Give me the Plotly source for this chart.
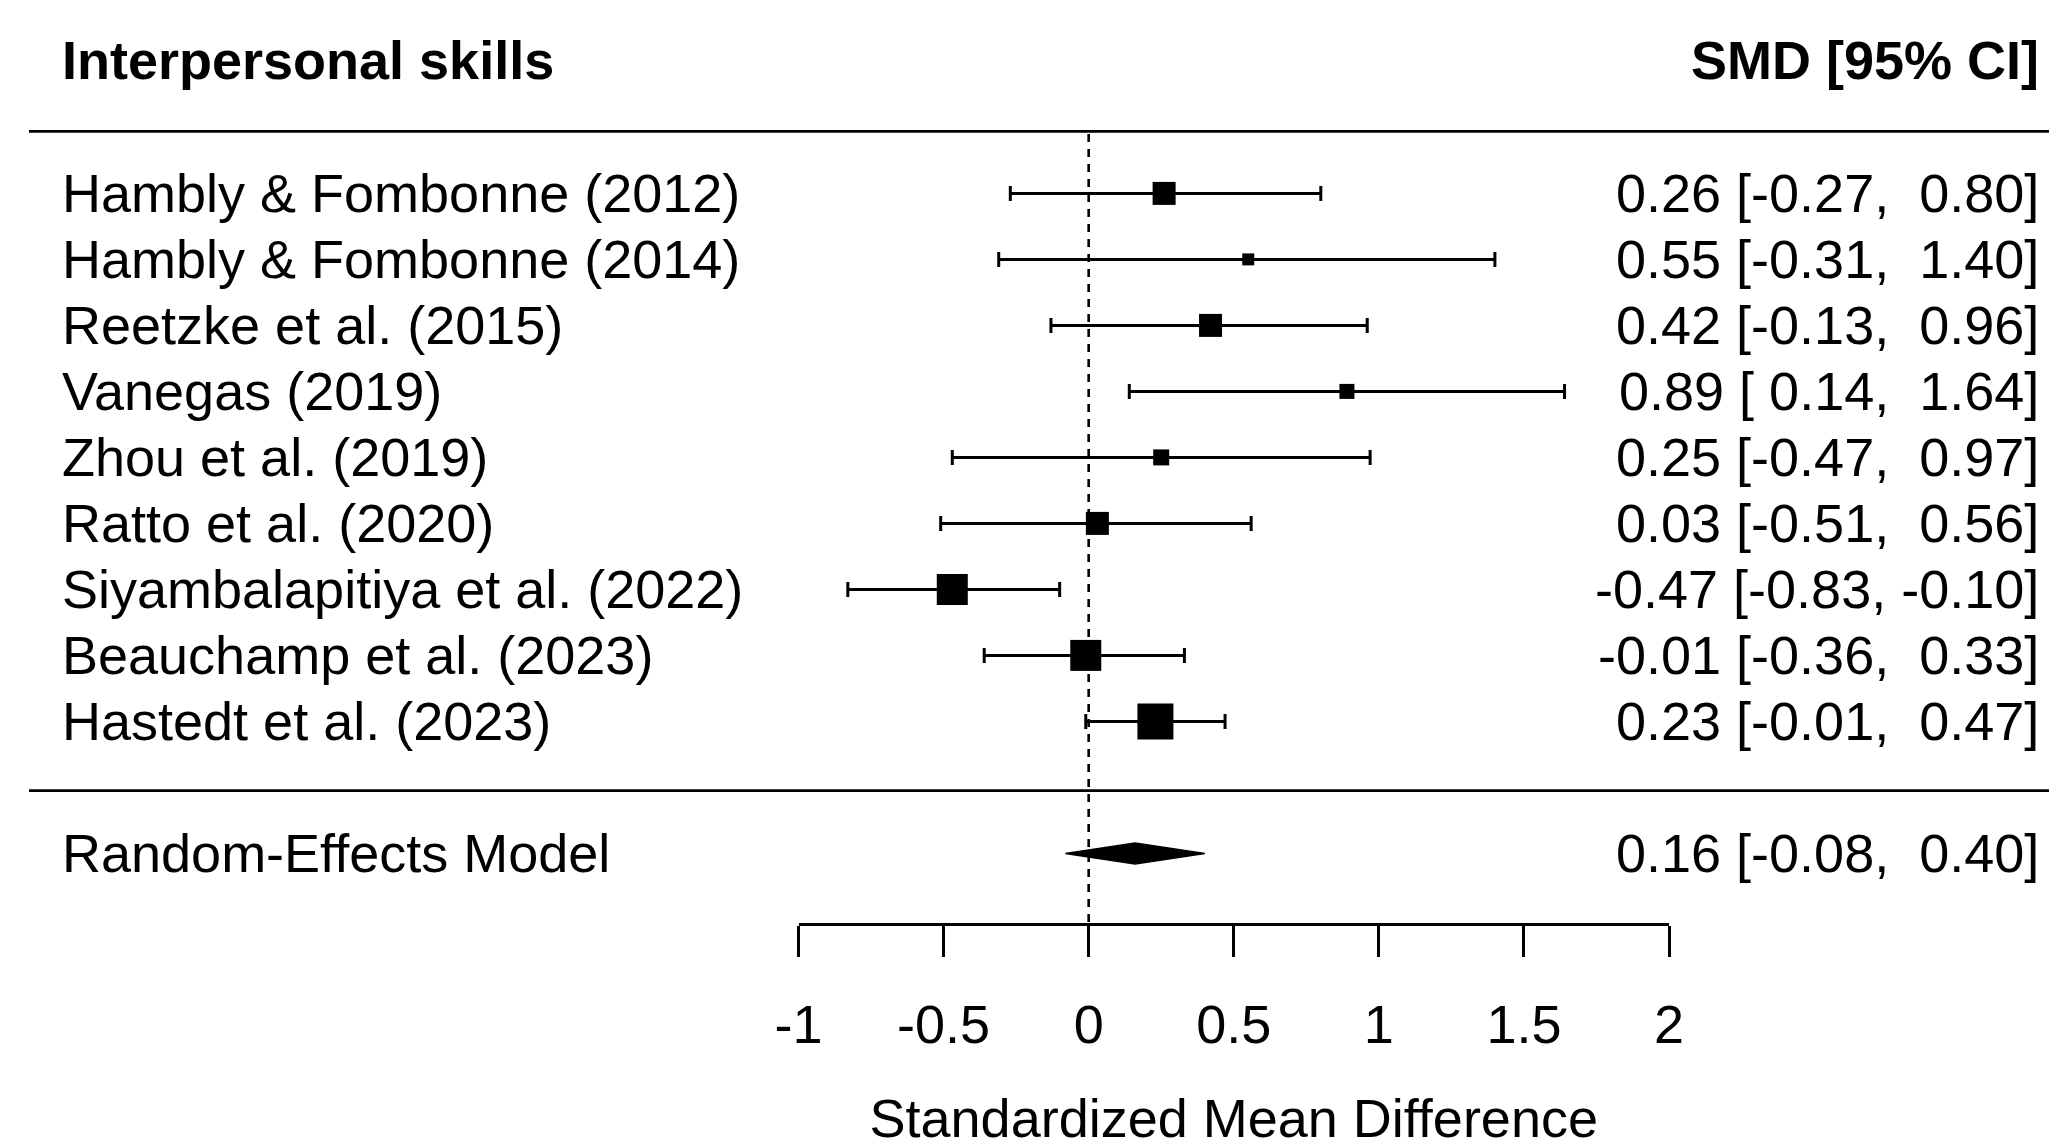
import plotly.graph_objects as go

# ---- data ----
studies = ["Hambly & Fombonne (2012)", "Hambly & Fombonne (2014)", "Reetzke et al. (2015)",
           "Vanegas (2019)", "Zhou et al. (2019)", "Ratto et al. (2020)",
           "Siyambalapitiya et al. (2022)", "Beauchamp et al. (2023)", "Hastedt et al. (2023)"]
smd = [0.26, 0.55, 0.42, 0.89, 0.25, 0.03, -0.47, -0.01, 0.23]
ci_low = [-0.27, -0.31, -0.13, 0.14, -0.47, -0.51, -0.83, -0.36, -0.01]
ci_high = [0.80, 1.40, 0.96, 1.64, 0.97, 0.56, -0.10, 0.33, 0.47]
weight_px = [23, 12, 23, 15, 16, 23, 31, 31, 36]  # square side, proportional to study weight
re_label = "Random-Effects Model"
re_est, re_low, re_high = 0.16, -0.08, 0.40
tick_vals = [-1, -0.5, 0, 0.5, 1, 1.5, 2]
tick_text = ["-1", "-0.5", "0", "0.5", "1", "1.5", "2"]
title_left = "Interpersonal skills"
title_right = "SMD [95% CI]"
x_title = "Standardized Mean Difference"

# ---- layout geometry (pixels) ----
W, H = 2049, 1148
FONT = "Liberation Sans, Arial, sans-serif"
FS = 54
rows = list(range(len(studies)))          # study rows 0..8
re_row = len(studies) + 1                 # 10
row0_px, row_px = 193.4, 66.0
axis_px = 923.0
y_top = -row0_px / row_px
y_bot = (axis_px - row0_px) / row_px
x_left_px, x_right_px = 798.5, 1669.0


def fmt(v):
    s = f"{v:.2f}"
    return s if v < 0 else "\u00a0" + s


def ci_text(e, lo, hi):
    return f"{e:.2f} [{fmt(lo)},\u00a0{fmt(hi)}]"


fig = go.Figure()

# study estimates with CIs
fig.add_trace(go.Scatter(
    x=smd, y=rows, mode="markers",
    marker=dict(symbol="square", size=weight_px, color="black", opacity=1, line=dict(width=0)),
    error_x=dict(type="data", symmetric=False,
                 array=[h - e for h, e in zip(ci_high, smd)],
                 arrayminus=[e - l for e, l in zip(smd, ci_low)],
                 color="black", thickness=3, width=7.5),
    showlegend=False, hoverinfo="skip"))

# summary diamond
h = 10.5 / row_px
fig.add_trace(go.Scatter(
    x=[re_low, re_est, re_high, re_est, re_low],
    y=[re_row, re_row - h, re_row, re_row + h, re_row],
    mode="lines", fill="toself", fillcolor="black",
    line=dict(color="black", width=1.5), showlegend=False, hoverinfo="skip"))

# zero reference line
fig.add_shape(type="line", xref="x", yref="y", x0=0, x1=0, y0=-0.9, y1=y_bot,
              line=dict(color="black", width=2.6, dash="8px,7px"))

# horizontal rules
for yr in (-0.94, 9.05):
    fig.add_shape(type="line", xref="paper", yref="y", x0=29 / W, x1=1.0, y0=yr, y1=yr,
                  line=dict(color="black", width=2.8))

ann = []
# headers
ann.append(dict(text=f"<b>{title_left}</b>", x=60 / W, y=-2.02, xanchor="left"))
ann.append(dict(text=f"<b>{title_right}</b>", x=2041 / W, y=-2.02, xanchor="right"))
# study labels and CI text
for i, s in enumerate(studies):
    ann.append(dict(text=s, x=60 / W, y=rows[i], xanchor="left"))
    ann.append(dict(text=ci_text(smd[i], ci_low[i], ci_high[i]), x=2041 / W, y=rows[i], xanchor="right"))
ann.append(dict(text=re_label, x=60 / W, y=re_row, xanchor="left"))
ann.append(dict(text=ci_text(re_est, re_low, re_high), x=2041 / W, y=re_row, xanchor="right"))
for a in ann:
    a.update(xref="paper", yref="y", yanchor="middle", showarrow=False,
             font=dict(family=FONT, size=FS, color="black"))
    fig.add_annotation(**a)

fig.update_layout(
    width=W, height=H,
    margin=dict(l=0, r=0, t=0, b=H - axis_px, pad=0, autoexpand=False),
    paper_bgcolor="white", plot_bgcolor="white",
    font=dict(family=FONT, size=FS, color="black"),
    xaxis=dict(domain=[x_left_px / W, x_right_px / W], range=[-1, 2],
               showgrid=False, zeroline=False, showline=True, linecolor="black", linewidth=2.8,
               ticks="outside", ticklen=31, tickwidth=2.6, tickcolor="black",
               tickvals=tick_vals, ticktext=tick_text, ticklabelstandoff=21,
               tickfont=dict(family=FONT, size=FS, color="black"),
               title=dict(text=x_title, standoff=62, font=dict(family=FONT, size=FS, color="black"))),
    yaxis=dict(domain=[0, 1], range=[y_bot, y_top], visible=False, showgrid=False, zeroline=False),
)

fig.write_html("out.html")
